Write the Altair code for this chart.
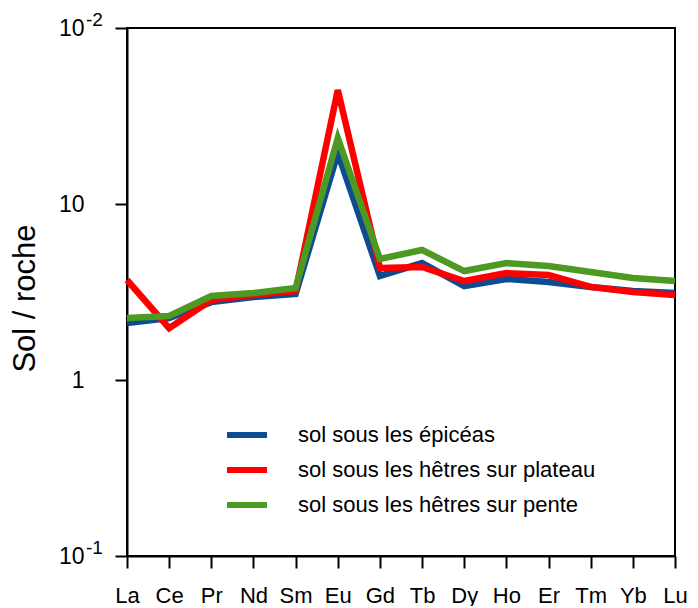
import altair as alt
import pandas as pd

elements = ["La", "Ce", "Pr", "Nd", "Sm", "Eu", "Gd", "Tb", "Dy", "Ho", "Er", "Tm", "Yb", "Lu"]
series_names = [
    "sol sous les épicéas",
    "sol sous les hêtres sur plateau",
    "sol sous les hêtres sur pente",
]
epiceas = [2.11, 2.25, 2.77, 2.96, 3.08, 19.5, 3.90, 4.62, 3.42, 3.75, 3.60, 3.38, 3.20, 3.12]
plateau = [3.70, 1.97, 2.85, 3.04, 3.20, 44.4, 4.33, 4.39, 3.65, 4.05, 3.95, 3.38, 3.16, 3.04]
pente = [2.25, 2.31, 3.00, 3.12, 3.33, 23.7, 4.87, 5.48, 4.16, 4.62, 4.44, 4.11, 3.80, 3.65]
colors = ["#0d4c92", "#ff0000", "#4c9a22"]
y_ticks = [0.1, 1, 10, 100]
y_tick_labels = ["10", "1", "10", "10"]
y_tick_exponents = ["-1", "", "", "-2"]

rows = []
for name, vals in zip(series_names, [epiceas, plateau, pente]):
    for el, v in zip(elements, vals):
        rows.append({"element": el, "value": v, "serie": name})
df = pd.DataFrame(rows)

exp_df = pd.DataFrame({
    "element": [elements[0]] * len(y_ticks),
    "value": y_ticks,
    "exp": y_tick_exponents,
})
exp_df = exp_df[exp_df["exp"] != ""]

label_expr = " : ".join(
    [f"datum.value == {v} ? '{l}'" for v, l in zip(y_ticks, y_tick_labels)] + ["''"]
)

FONT = "Liberation Sans"

x_enc = alt.X("element:O", sort=elements, scale=alt.Scale(padding=0),
              axis=alt.Axis(title=None, labelAngle=0, labelFontSize=22, labelFont=FONT,
                            labelColor="black", labelPadding=17, tickSize=12, tickWidth=2,
                            tickColor="black", domainColor="black", domainWidth=2,
                            grid=False, labelFlush=False))
y_scale = alt.Scale(type="log", domain=[0.1, 100])

lines = alt.Chart(df).mark_line(strokeWidth=6.5, strokeJoin="miter", strokeCap="butt").encode(
    x=x_enc,
    y=alt.Y("value:Q", scale=y_scale,
            axis=alt.Axis(values=y_ticks, labelExpr=label_expr, title="Sol / roche",
                          titleFont=FONT, titleFontSize=31, titleFontWeight="normal",
                          titleColor="black", titleAngle=270, titleAlign="center",
                          titleBaseline="middle", titleX=-102, titleY=270,
                          labelFontSize=23, labelFont=FONT, labelColor="black",
                          labelPadding=31, tickSize=12, tickWidth=2, tickColor="black",
                          domainColor="black", domainWidth=2, grid=False,
                          labelFlush=False)),
    color=alt.Color("serie:N", sort=series_names,
                    scale=alt.Scale(domain=series_names, range=colors),
                    legend=alt.Legend(title=None, orient="none", legendX=97, legendY=384,
                                      symbolType="stroke", symbolSize=1600,
                                      symbolStrokeWidth=6, labelFontSize=22, labelFont=FONT,
                                      labelColor="black", labelOffset=28, rowPadding=0,
                                      padding=0, labelLimit=0)),
    order=alt.Order("serie_order:Q"),
).transform_calculate(
    serie_order=f"indexof({series_names!r}, datum.serie)"
)

exps = alt.Chart(exp_df).mark_text(
    align="left", baseline="alphabetic", dx=-41, dy=-2, fontSize=19, font=FONT,
    color="black"
).encode(
    x=alt.X("element:O", sort=elements),
    y=alt.Y("value:Q", scale=y_scale),
    text="exp:N",
)

chart = alt.layer(lines, exps).properties(
    width=548, height=528,
    autosize=alt.AutoSizeParams(type="none"),
    padding={"left": 119, "top": 20, "right": 15, "bottom": 50},
).configure_view(
    stroke="black", strokeWidth=2
)

chart.save("out.html", embed_options={"renderer": "svg", "actions": False})
